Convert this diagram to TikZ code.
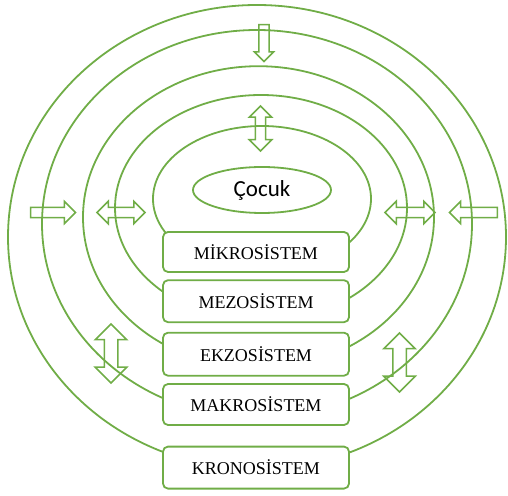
\documentclass[tikz,border=0pt]{standalone}
\usepackage{fontspec}
\setmainfont{Liberation Serif}
\newfontfamily\cocukfont{Carlito}
\usepackage{tikz}
\usetikzlibrary{positioning,shapes,shapes.arrows,shapes.geometric}
\definecolor{ringgreen}{RGB}{112,173,71}
\tikzset{
    layer/.style = {draw=ringgreen, fill=white, rectangle, rounded corners=5pt,
        line width=1.8pt, minimum height=41pt,
        minimum width=186pt, align=center, font=\fontsize{18}{20}\selectfont},
    ring/.style = {draw=ringgreen, line width=1.8pt},
    child/.style = {draw=ringgreen, ellipse, line width=1.8pt,
        minimum width=138pt, minimum height=46pt, font=\cocukfont\fontsize{23}{26}\selectfont},
    sarrow/.style = {draw=ringgreen, single arrow, line width=1.5pt, inner sep=0pt,
        inner ysep=4.3pt, single arrow head extend=6pt, minimum height=#1},
    darrow/.style = {draw=ringgreen, double arrow, line width=1.5pt, inner sep=0pt,
        inner ysep=4.3pt, double arrow head extend=6.2pt, minimum height=#1},
    bigdarrow/.style = {darrow=#1, inner ysep=6pt, double arrow head extend=9pt}
}

\begin{document}
\begin{tikzpicture}[x=1pt, y=1pt, node distance=6.4pt]
    \useasboundingbox (0,0) rectangle (508,495);
    \foreach \cx/\cy/\rx/\ry in {262/296.2/109/72.8, 261/287/146/113, 258.5/277.8/175.5/151,
            257/271.2/215/193.8, 257/258/249/232}{
        \draw[ring] (\cx,\cy) ellipse [x radius=\rx pt, y radius=\ry pt];
    }
    \node[child] (cocuk) at (262,305) {Çocuk};
    \node[layer, minimum height=40pt] (mikro) at (256,243) {MİKROSİSTEM};
    \node[layer, minimum height=42pt, below=of mikro] (mezo) {MEZOSİSTEM};
    \node[layer, minimum height=43pt, below=8.7pt of mezo] (ekzo) {EKZOSİSTEM};
    \node[layer, below=6.5pt of ekzo] (makro) {MAKROSİSTEM};
    \node[layer, minimum height=42pt, below=19.8pt of makro] (krono) {KRONOSİSTEM};
    \node[sarrow=37pt, rotate=-90, single arrow head extend=4.5pt] (topin) at (264,454.5) {};
    \node[darrow=45pt, rotate=90] (topboth) at (260.5,366.5) {};
    \node[sarrow=45pt] (leftin) at (50.5,282.5) {};
    \node[darrow=48pt] (leftboth) at (121,282.5) {};
    \node[darrow=50pt] (rightboth) at (410,282.5) {};
    \node[sarrow=48pt, rotate=180] (rightin) at (476,282.5) {};
    \node[bigdarrow=59pt, rotate=90] (lowleft) at (111,141.5) {};
    \node[bigdarrow=59pt, rotate=90] (lowright) at (399.5,132.5) {};
\end{tikzpicture}
\end{document}
